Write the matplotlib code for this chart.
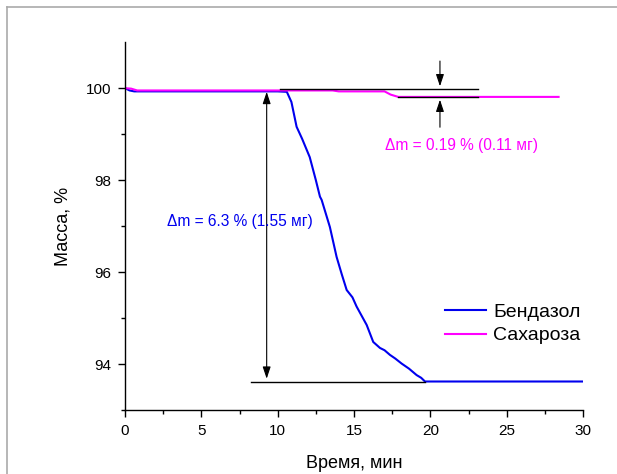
import matplotlib.pyplot as plt
from matplotlib.lines import Line2D

plt.rcParams['font.family'] = ['Liberation Sans', 'DejaVu Sans']

# Бендазол: время (мин) и масса (%)
t_benz = [0, 0.3, 0.6, 5, 10.0, 10.6, 10.9, 11.24, 11.6, 12.1, 12.5, 12.77, 12.88,
          13.42, 13.86, 14.2, 14.52, 14.9, 15.17, 15.5, 15.83, 16.26, 16.7, 17.0,
          17.35, 17.7, 18.12, 18.6, 19.1, 19.4, 19.65, 25, 30]
m_benz = [100.0, 99.95, 99.93, 99.93, 99.93, 99.92, 99.7, 99.16, 98.9, 98.5, 98.0, 97.64, 97.57,
          96.98, 96.33, 95.95, 95.61, 95.45, 95.25, 95.05, 94.85, 94.48, 94.35, 94.3,
          94.2, 94.12, 94.01, 93.9, 93.76, 93.7, 93.62, 93.62, 93.62]

# Сахароза
t_sah = [0, 0.4, 0.8, 5, 10, 13.6, 14.0, 17.0, 17.4, 17.9, 23, 28.4]
m_sah = [100.0, 99.99, 99.95, 99.95, 99.95, 99.95, 99.93, 99.93, 99.86, 99.81, 99.81, 99.81]

fig = plt.figure(figsize=(6.17, 4.74), dpi=100)
ax = fig.add_axes([0.2026, 0.135, 0.7423, 0.776])

ax.plot(t_benz, m_benz, color='#0000ee', lw=1.5, label='Бендазол')
ax.plot(t_sah, m_sah, color='#ff00ff', lw=1.5, label='Сахароза')

# размерные линии
ax.plot([10.15, 23.14], [99.98, 99.98], color='black', lw=1)
ax.plot([17.9, 23.14], [99.81, 99.81], color='black', lw=1)
ax.plot([8.23, 19.65], [93.62, 93.62], color='black', lw=1)

arr = dict(arrowstyle='-|>,head_length=0.6,head_width=0.2', color='black', lw=0.8,
           mutation_scale=12)
ax.annotate('', xy=(20.63, 99.98), xytext=(20.63, 100.65), arrowprops=arr)
ax.annotate('', xy=(20.63, 99.81), xytext=(20.63, 99.09), arrowprops=arr)
ax.annotate('', xy=(9.28, 93.62), xytext=(9.28, 99.98),
            arrowprops=dict(arrowstyle='<|-|>,head_length=0.6,head_width=0.2',
                            color='black', lw=0.8, mutation_scale=12))

ax.text(22.07, 98.76, 'Δm = 0.19 % (0.11 мг)', color='#ff00ff', fontsize=11.2,
        ha='center', va='center')
ax.text(7.5, 97.09, 'Δm = 6.3 % (1.55 мг)', color='#0000ee', fontsize=11.2,
        ha='center', va='center')

ax.set_xlim(0, 30)
ax.set_ylim(93, 101)
ax.set_xticks([0, 5, 10, 15, 20, 25, 30])
ax.set_xticks([2.5, 7.5, 12.5, 17.5, 22.5, 27.5], minor=True)
ax.set_yticks([94, 96, 98, 100])
ax.set_yticks([93, 95, 97, 99], minor=True)
ax.tick_params(which='major', direction='out', length=5, width=1, labelsize=11, pad=5)
ax.tick_params(which='minor', direction='out', length=3, width=1)
for s in ['top', 'right']:
    ax.spines[s].set_visible(False)
for s in ['left', 'bottom']:
    ax.spines[s].set_linewidth(1)

ax.set_xlabel('Время, мин', fontsize=13, labelpad=12)
ax.set_ylabel('Масса, %', fontsize=13, labelpad=10)

ax.legend(loc='center left', bbox_to_anchor=(0.66, 0.234), frameon=False,
          fontsize=14, handlelength=2.1, handletextpad=0.4, labelspacing=0.3)

# серая рамка
fig.add_artist(Line2D([7 / 617, 1], [1 - 7 / 474, 1 - 7 / 474], color='#aaaaaa', lw=1.2,
                      transform=fig.transFigure))
fig.add_artist(Line2D([7 / 617, 7 / 617], [0, 1 - 7 / 474], color='#aaaaaa', lw=1.2,
                      transform=fig.transFigure))

fig.savefig('out.png', dpi=100)
